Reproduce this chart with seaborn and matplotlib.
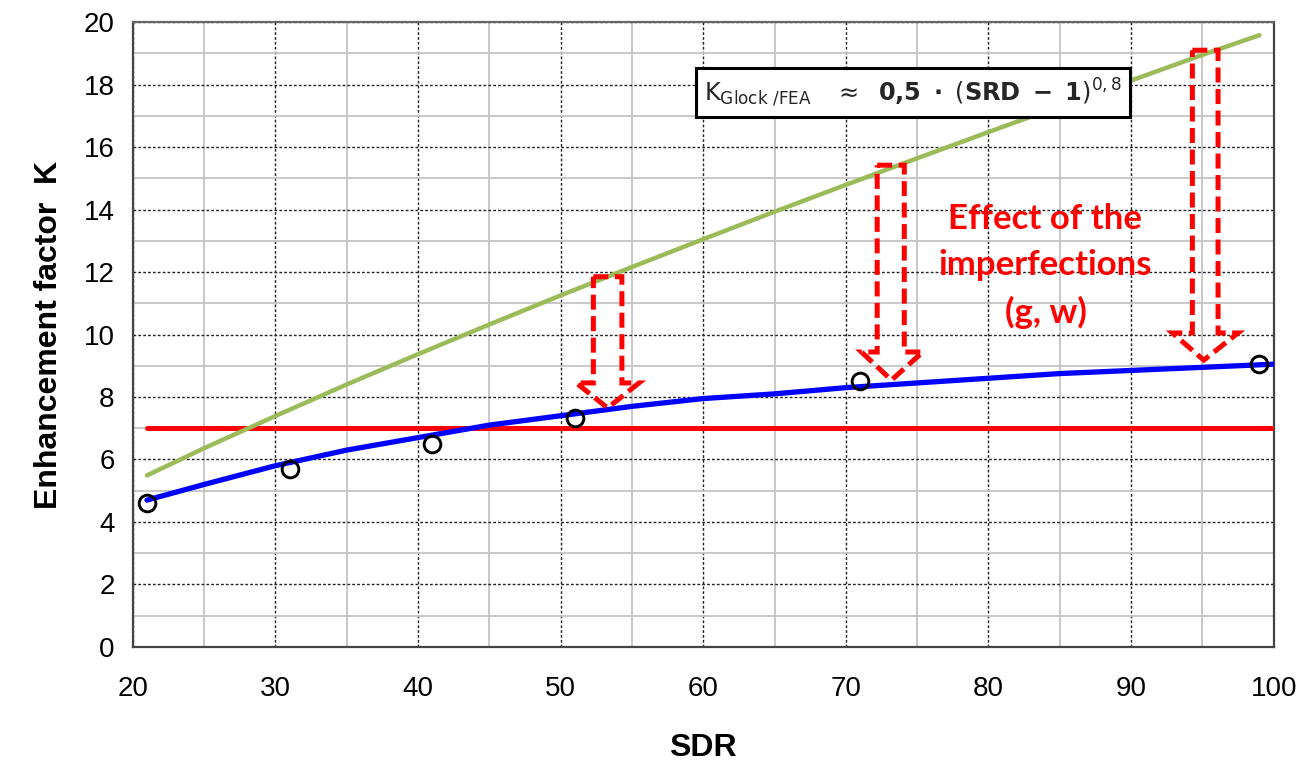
import matplotlib
matplotlib.use("Agg")
import matplotlib.pyplot as plt
import seaborn as sns
import pandas as pd
from matplotlib.patches import Polygon
from matplotlib.ticker import MultipleLocator

# ---- data ----
sdr_fit = [21, 25, 30, 35, 40, 45, 50, 55, 60, 65, 70, 75, 80, 85, 90, 95, 99]
k_fit = [5.49, 6.36, 7.39, 8.40, 9.37, 10.32, 11.25, 12.16, 13.05, 13.93,
         14.79, 15.64, 16.48, 17.31, 18.13, 18.95, 19.58]

sdr_fea = [21, 25, 30, 35, 40, 45, 50, 55, 60, 65, 70, 75, 80, 85, 90, 95, 100]
k_fea = [4.7, 5.2, 5.8, 6.3, 6.7, 7.1, 7.4, 7.7, 7.95, 8.1, 8.3, 8.45,
         8.6, 8.75, 8.85, 8.95, 9.05]

sdr_limit = [21, 100]
k_limit = [7.0, 7.0]

sdr_pts = [21, 31, 41, 51, 71, 99]
k_pts = [4.6, 5.7, 6.5, 7.33, 8.5, 9.06]

x_ticks = [20, 30, 40, 50, 60, 70, 80, 90, 100]
y_ticks = [0, 2, 4, 6, 8, 10, 12, 14, 16, 18, 20]

# arrows: (shaft left, shaft right, top, wing level, wing left, wing right, tip x, tip y)
arrows = [
    (52.3, 54.3, 11.85, 8.45, 51.1, 55.5, 53.3, 7.65),
    (72.2, 74.1, 15.42, 9.44, 71.1, 75.4, 73.2, 8.54),
    (94.3, 96.1, 19.10, 10.05, 92.9, 97.5, 95.1, 9.18),
]

sns.set_style("white")
plt.rcParams['font.family'] = ['Liberation Sans', 'DejaVu Sans']

fig = plt.figure(figsize=(13.01, 7.62), dpi=100)
ax = fig.add_axes([0.102, 0.151, 0.877, 0.820])

df_fit = pd.DataFrame({"SDR": sdr_fit, "K": k_fit})
df_fea = pd.DataFrame({"SDR": sdr_fea, "K": k_fea})
df_lim = pd.DataFrame({"SDR": sdr_limit, "K": k_limit})
df_pts = pd.DataFrame({"SDR": sdr_pts, "K": k_pts})

sns.lineplot(data=df_lim, x="SDR", y="K", ax=ax, color="#FF0000", lw=3.6,
             solid_capstyle="round", zorder=3)
sns.lineplot(data=df_fit, x="SDR", y="K", ax=ax, color="#9BBB59", lw=3.2,
             solid_capstyle="round", zorder=3)
sns.lineplot(data=df_fea, x="SDR", y="K", ax=ax, color="#0000FF", lw=3.8,
             solid_capstyle="round", zorder=4)
ax.plot(sdr_pts, k_pts, linestyle="none", marker="o", markersize=12,
        markerfacecolor="none", markeredgecolor="black", markeredgewidth=2.1,
        zorder=6)

for (l, r, top, wy, wl, wr, tx, ty) in arrows:
    verts = [(l, top), (r, top), (r, wy), (wr, wy), (tx, ty), (wl, wy), (l, wy)]
    poly = Polygon(verts, closed=True, fill=False, edgecolor="#FF0000",
                   lw=3.6, linestyle=(0, (3.0, 1.3)), joinstyle="miter", zorder=7)
    ax.add_patch(poly)

ax.set_xlim(20, 100)
ax.set_ylim(0, 20)
ax.set_xticks(x_ticks)
ax.set_yticks(y_ticks)
ax.xaxis.set_minor_locator(MultipleLocator(5))
ax.yaxis.set_minor_locator(MultipleLocator(1))

ax.grid(which="major", color="#222222", linestyle=(0, (2, 1.5)), lw=1.0, zorder=0)
ax.grid(which="minor", color="#c4c4c4", linestyle="-", lw=1.3, zorder=0)
ax.set_axisbelow(True)

for s in ax.spines.values():
    s.set_color("#444444")
    s.set_linewidth(1.6)
ax.spines["top"].set_color("#666666")

ax.tick_params(which="major", direction="inout", length=14, width=1.2,
               color="#333333", labelsize=20, labelcolor="black", pad=6)
ax.tick_params(which="minor", length=0)
ax.tick_params(axis="x", pad=14)

ax.set_xlabel("SDR", fontsize=23, fontweight="bold", color="black", labelpad=22)
ax.set_ylabel("Enhancement factor  K", fontsize=23, fontweight="bold",
              color="black", labelpad=14)

formula = (r"K$_{\mathregular{Glock\ /FEA}}$   $\approx$  "
           r"$\mathbf{0{,}5\ \cdot\ \left(SRD\ -\ 1\right)}^{\mathregular{0,8}}$")
ax.text(74.7, 17.75, formula, ha="center", va="center", fontsize=17.3,
        family=["DejaVu Sans"], zorder=8,
        bbox=dict(boxstyle="square,pad=0.35", facecolor="white",
                  edgecolor="black", lw=2.2))

ax.text(84.0, 12.2, "Effect of the\nimperfections\n(g, w)", ha="center",
        va="center", fontsize=25, fontweight="bold", color="#FF0000",
        family=["Lato", "DejaVu Sans"], linespacing=1.55, zorder=8)

fig.savefig("out.png", dpi=100)
